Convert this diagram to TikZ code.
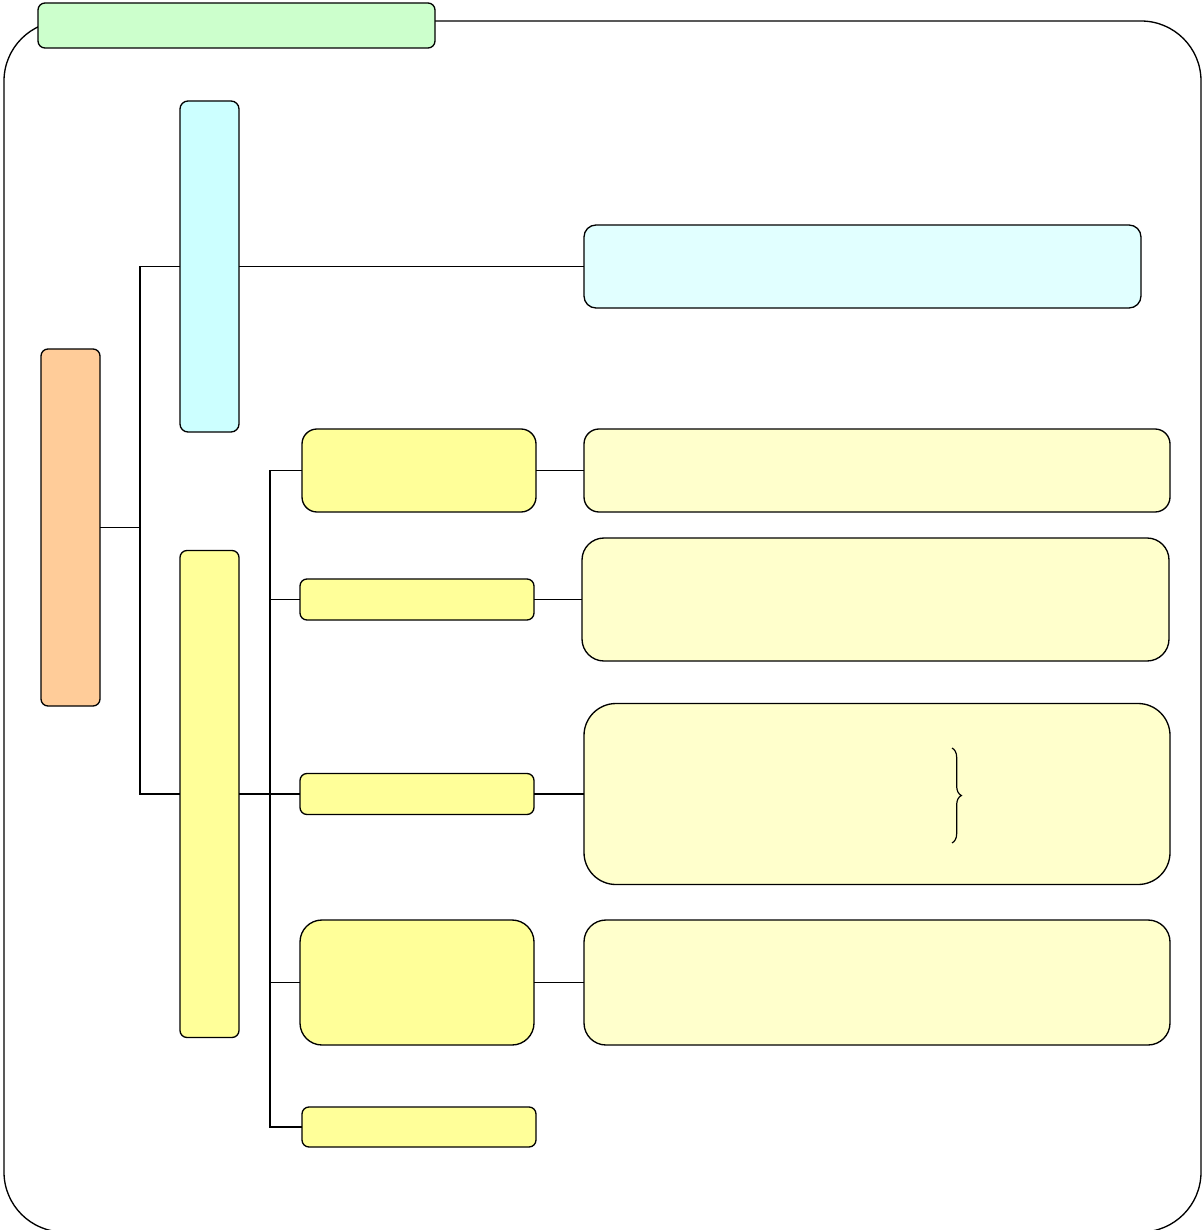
\documentclass[tikz,border=0pt]{standalone}
\usetikzlibrary{decorations.pathreplacing}
\definecolor{titlegreen}{HTML}{CCFFCC}
\definecolor{orangefill}{HTML}{FFCC99}
\definecolor{cyanfill}{HTML}{CCFFFF}
\definecolor{palecyan}{HTML}{E1FFFF}
\definecolor{yellowfill}{HTML}{FFFF99}
\definecolor{paleyellow}{HTML}{FFFFCC}
\begin{document}
\begin{tikzpicture}[x=0.75pt,y=-0.75pt,
  line width=1pt,
  rbox/.style n args={4}{draw=black, line width=1pt, inner sep=0pt, outer sep=0pt,
    minimum width=#1*0.75pt, minimum height=#2*0.75pt, rounded corners=#3*0.75pt, fill=#4},
  conn/.style={draw=black, line width=0.9pt}]
\useasboundingbox (0,0) rectangle (1203,1230);
% outer frame
\draw[rounded corners=45pt] (4,21) rectangle (1201,1232);
% nodes
\node[rbox={397}{45}{7}{titlegreen}] (title) at (236.5,25.5) {};
\node[rbox={59}{357}{7}{orangefill}] (root) at (70.5,527.5) {};
\node[rbox={59}{331}{8}{cyanfill}] (cyanT) at (209.5,266.5) {};
\node[rbox={557}{83}{12}{palecyan}] (cyanL) at (862.5,266.5) {};
\node[rbox={59}{487}{7}{yellowfill}] (yelT) at (209.5,794) {};
\node[rbox={234}{83}{15}{yellowfill}] (ya) at (419,470.5) {};
\node[rbox={234}{41}{7}{yellowfill}] (yb) at (417,599.5) {};
\node[rbox={234}{41}{7}{yellowfill}] (yc) at (417,794) {};
\node[rbox={234}{125}{22}{yellowfill}] (yd) at (417,982.5) {};
\node[rbox={234}{40}{7}{yellowfill}] (ye) at (419,1127) {};
\node[rbox={586}{83}{15}{paleyellow}] (la) at (877,470.5) {};
\node[rbox={587}{123}{22}{paleyellow}] (lb) at (875.5,599.5) {};
\node[rbox={586}{181}{32}{paleyellow}] (lc) at (877,794) {};
\node[rbox={586}{125}{22}{paleyellow}] (ld) at (877,982.5) {};
% connectors
\coordinate (j1) at (140,527.5);
\coordinate (j2) at (270,794);
\draw[conn] (root.east) -- (j1);
\draw[conn] (j1) |- (cyanT.west);
\draw[conn] (j1) |- (yelT.west);
\draw[conn] (cyanT.east) -- (cyanL.west);
\draw[conn] (yelT.east) -- (j2);
\draw[conn] (j2) |- (ya.west);
\draw[conn] (j2) |- (yb.west);
\draw[conn] (j2) |- (yc.west);
\draw[conn] (j2) |- (yd.west);
\draw[conn] (j2) |- (ye.west);
\draw[conn] (ya.east) -- (la.west);
\draw[conn] (yb.east) -- (lb.west);
\draw[conn] (yc.east) -- (lc.west);
\draw[conn] (yd.east) -- (ld.west);
% brace inside lc
\coordinate (bt) at (952,748);
\coordinate (bb) at (952,843);
\draw[line width=0.9pt, decorate, decoration={brace, amplitude=7pt}] (bt) -- (bb);
\end{tikzpicture}
\end{document}
